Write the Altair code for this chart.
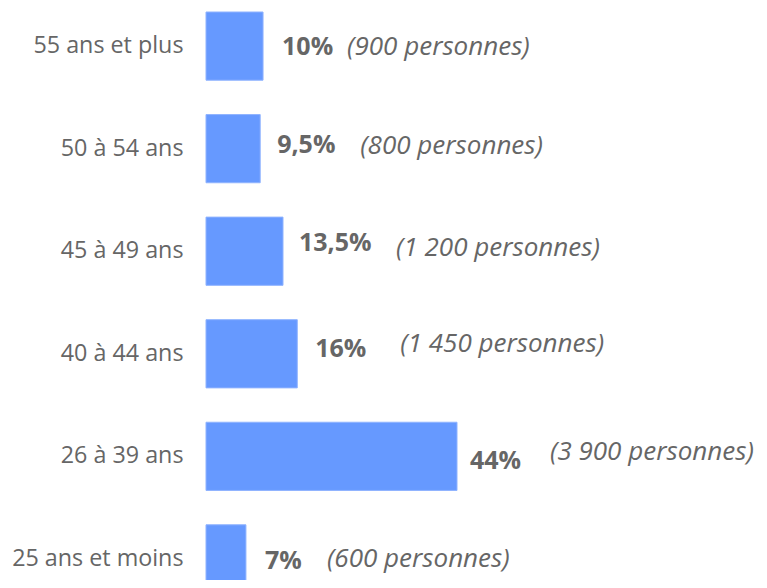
import altair as alt
import pandas as pd

# ---- data ----
categories = ["55 ans et plus", "50 à 54 ans", "45 à 49 ans", "40 à 44 ans", "26 à 39 ans", "25 ans et moins"]
shares = [10, 9.5, 13.5, 16, 44, 7]
share_labels = ["10%", "9,5%", "13,5%", "16%", "44%", "7%"]
notes = ["(900 personnes)", "(800 personnes)", "(1 200 personnes)",
         "(1 450 personnes)", "(3 900 personnes)", "(600 personnes)"]

# ---- label nudges (layout only, pixels) ----
pct_dx = [19, 17, 16, 18, 13, 19]
pct_dy = [1, -4, -8, -5, 5, 2]
note_dx = [84, 100, 113, 103, 93, 81]
note_dy = [1, -3, -3, -10, -4, 0]

df = pd.DataFrame({
    "cat": categories, "share": shares, "pct": share_labels, "note": notes,
    "pdx": pct_dx, "pdy": pct_dy, "ndx": note_dx, "ndy": note_dy,
})

GRAY = "#666666"
FONT = "Open Sans"

y = alt.Y("cat:N", sort=categories, title=None,
          scale=alt.Scale(paddingInner=0.335, paddingOuter=0, range=[0, 581]),
          axis=alt.Axis(domain=False, ticks=False, grid=False, labelFontSize=23.3, labelFont=FONT,
                        labelColor=GRAY, labelPadding=23, labelAlign="right",
                        labelBaseline="middle", labelLimit=300))
x = alt.X("share:Q", title=None, axis=None, scale=alt.Scale(nice=False, zero=True))

base = alt.Chart(df)
bars = base.mark_bar(color="#6699FF", stroke="#8fb3ff", strokeWidth=1).encode(x=x, y=y)
pct = base.mark_text(align="left", baseline="middle", font=FONT, fontSize=25,
                     fontWeight="bold", color=GRAY,
                     dx=alt.expr("datum.pdx"), dy=alt.expr("datum.pdy")).encode(
    x=x, y=y, text="pct:N")
note = base.mark_text(align="left", baseline="middle", font=FONT, fontSize=26,
                      fontStyle="italic", color=GRAY,
                      dx=alt.expr("datum.ndx"), dy=alt.expr("datum.ndy")).encode(
    x=x, y=y, text="note:N")

chart = (bars + pct + note).properties(
    width=251, height=568,
    autosize=alt.AutoSizeParams(type="none"),
    padding={"left": 198, "top": 4, "right": 302, "bottom": 0},
).configure(background="white").configure_view(strokeWidth=0, stroke="transparent")

chart.save("out.html", embed_options={"renderer": "svg", "actions": False})
